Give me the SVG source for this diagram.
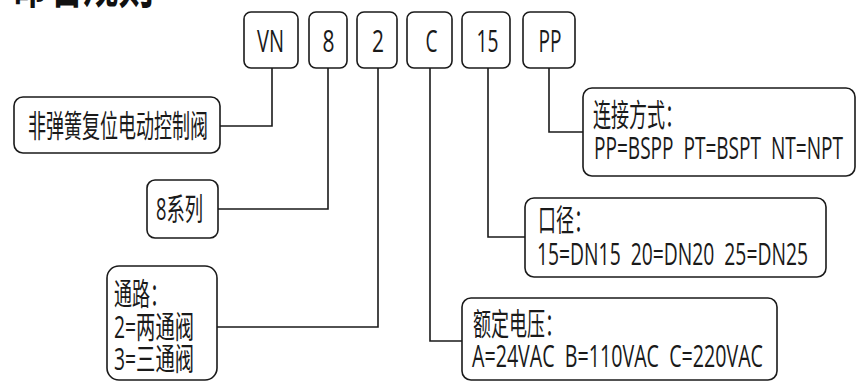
<svg xmlns="http://www.w3.org/2000/svg" width="857" height="383" viewBox="0 0 857 383" xml:space="preserve">
<style>
  .box { fill: #ffffff; stroke: #1a1a1a; stroke-width: 1.6; }
  .t { font-family: "Open Sans", "Noto Sans CJK SC", sans-serif; font-size: 31px; fill: #1a1a1a; white-space: pre; }
  .title { font-family: "Noto Sans CJK SC", "Open Sans", sans-serif; font-size: 50px; font-weight: bold; fill: #111111; }
  .wire { fill: none; stroke: #1a1a1a; stroke-width: 1.6; }
</style>
<rect x="0" y="0" width="857" height="383" fill="#ffffff"/>
<text class="title" x="12" y="3" textLength="142" lengthAdjust="spacingAndGlyphs">命名规则</text>

<g id="connectors">
  <path class="wire" d="M272 68 V126 H220"/>
  <path class="wire" d="M328 68 V209 H218"/>
  <path class="wire" d="M378 68 V327 H217"/>
  <path class="wire" d="M430 68 V341 H462"/>
  <path class="wire" d="M488 68 V237 H525"/>
  <path class="wire" d="M549 68 V132 H583"/>
</g>

<g id="code-VN">
  <rect class="box" x="244" y="12" width="54" height="56" rx="7"/>
  <text class="t" x="257" y="52" textLength="27" lengthAdjust="spacingAndGlyphs">VN</text>
</g>
<g id="code-8">
  <rect class="box" x="309" y="12" width="38" height="56" rx="7"/>
  <text class="t" x="322.5" y="52" textLength="12" lengthAdjust="spacingAndGlyphs">8</text>
</g>
<g id="code-2">
  <rect class="box" x="357" y="12" width="40" height="56" rx="7"/>
  <text class="t" x="372" y="52" textLength="12" lengthAdjust="spacingAndGlyphs">2</text>
</g>
<g id="code-C">
  <rect class="box" x="407" y="12" width="45" height="56" rx="7"/>
  <text class="t" x="425.5" y="52" textLength="12" lengthAdjust="spacingAndGlyphs">C</text>
</g>
<g id="code-15">
  <rect class="box" x="462" y="12" width="48" height="56" rx="7"/>
  <text class="t" x="476.5" y="52" textLength="22" lengthAdjust="spacingAndGlyphs">15</text>
</g>
<g id="code-PP">
  <rect class="box" x="523" y="12" width="52" height="56" rx="7"/>
  <text class="t" x="538.5" y="52" textLength="23" lengthAdjust="spacingAndGlyphs">PP</text>
</g>

<g id="desc-type">
  <rect class="box" x="14" y="97" width="206" height="56" rx="9"/>
  <text class="t" x="28" y="137" textLength="180" lengthAdjust="spacingAndGlyphs">非弹簧复位电动控制阀</text>
</g>
<g id="desc-series">
  <rect class="box" x="147" y="180" width="71" height="58" rx="8"/>
  <text class="t" x="156" y="220" textLength="47" lengthAdjust="spacingAndGlyphs">8系列</text>
</g>
<g id="desc-ways">
  <rect class="box" x="107" y="266" width="110" height="114" rx="12"/>
  <text class="t" x="114" y="305" textLength="54" lengthAdjust="spacingAndGlyphs">通路：</text>
  <text class="t" x="114" y="338" textLength="80" lengthAdjust="spacingAndGlyphs">2=两通阀</text>
  <text class="t" x="114" y="370" textLength="80" lengthAdjust="spacingAndGlyphs">3=三通阀</text>
</g>
<g id="desc-voltage">
  <rect class="box" x="462" y="298" width="315" height="82" rx="9"/>
  <text class="t" x="473" y="335" textLength="90" lengthAdjust="spacingAndGlyphs">额定电压：</text>
  <text class="t" x="472" y="367" textLength="291" lengthAdjust="spacingAndGlyphs">A=24VAC  B=110VAC  C=220VAC</text>
</g>
<g id="desc-size">
  <rect class="box" x="525" y="198" width="301" height="79" rx="9"/>
  <text class="t" x="538" y="231" textLength="54" lengthAdjust="spacingAndGlyphs">口径：</text>
  <text class="t" x="537" y="265" textLength="271" lengthAdjust="spacingAndGlyphs">15=DN15  20=DN20  25=DN25</text>
</g>
<g id="desc-connection">
  <rect class="box" x="583" y="88" width="272" height="88" rx="9"/>
  <text class="t" x="593" y="126" textLength="90" lengthAdjust="spacingAndGlyphs">连接方式：</text>
  <text class="t" x="594" y="159" textLength="249" lengthAdjust="spacingAndGlyphs">PP=BSPP  PT=BSPT  NT=NPT</text>
</g>
</svg>
